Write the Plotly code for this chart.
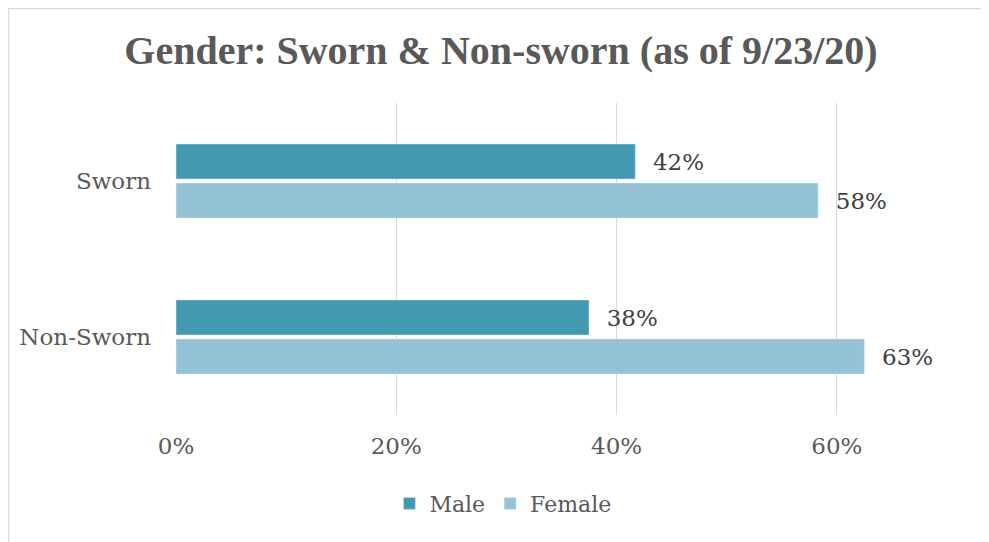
import plotly.graph_objects as go

categories = ["Sworn", "Non-Sworn"]
male = [0.417, 0.375]
female = [0.583, 0.625]
tick_vals = [0, 0.2, 0.4, 0.6]
tick_text = ["0%", "20%", "40%", "60%"]

FONT = "DejaVu Serif"
TITLE_FONT = "Liberation Serif"
GRAY = "#595959"

fig = go.Figure()
for name, vals, color in [("Male", male, "#4299B0"), ("Female", female, "#93C3D5")]:
    fig.add_trace(go.Bar(y=categories, x=vals, name=name, orientation="h",
                         marker_color=color, texttemplate="\u00a0\u00a0%{x:.0%}",
                         textposition="outside",
                         textfont=dict(color="#404040", size=23, family=FONT),
                         cliponaxis=False))

# page has an 8px body margin, so the figure is sized/offset to compensate
fig.update_layout(
    width=981, height=534,
    margin=dict(l=168, r=42, t=95, b=127),
    paper_bgcolor="white", plot_bgcolor="white",
    barmode="group", bargap=0.5, bargroupgap=0.1,
    font=dict(family=FONT, color=GRAY, size=23),
    title=dict(text="<b>Gender: Sworn & Non-sworn (as of 9/23/20)</b>", x=0.5025, xanchor="center",
               y=0.921, yanchor="middle", font=dict(size=40, color=GRAY, family=TITLE_FONT)),
    legend=dict(orientation="h", x=0.424, xanchor="center", y=-0.284, yanchor="middle",
                font=dict(size=22, color=GRAY), traceorder="normal"),
    showlegend=True,
)
fig.update_xaxes(range=[0, 0.7], tickvals=tick_vals, ticktext=tick_text, showgrid=True,
                 gridcolor="#D9D9D9", gridwidth=1, zeroline=False, showline=False,
                 ticklabelstandoff=15, tickfont=dict(size=23, color=GRAY))
fig.update_yaxes(autorange="reversed", showgrid=False, zeroline=False, showline=False,
                 ticklabelstandoff=24, tickfont=dict(size=23, color=GRAY))

fig.add_shape(type="rect", xref="paper", yref="paper", x0=-0.2173, x1=1.1, y0=-0.5, y1=1.3029,
              line=dict(color="#D9D9D9", width=1.5), fillcolor="rgba(0,0,0,0)", layer="below")

fig.write_html("out.html")
